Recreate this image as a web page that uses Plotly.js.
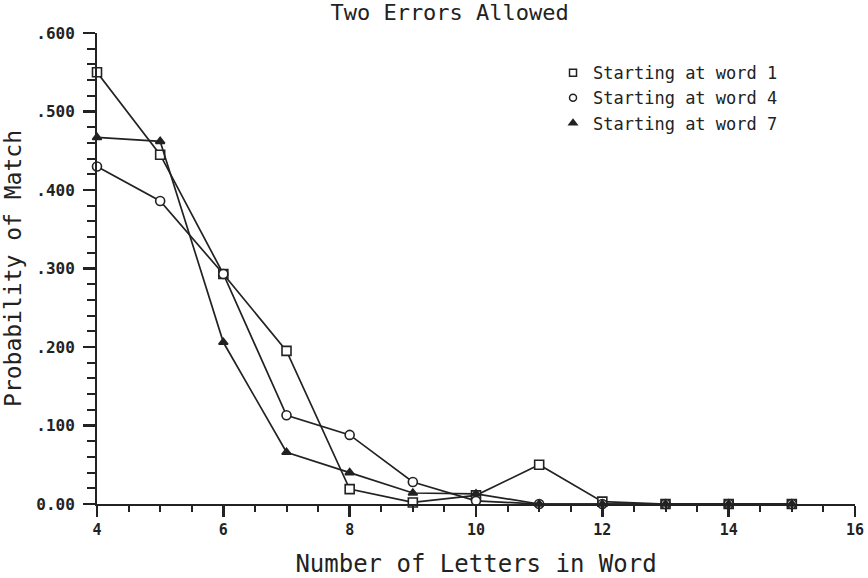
<!DOCTYPE html>
<html>
<head>
<meta charset="utf-8">
<script src="https://cdn.plot.ly/plotly-3.0.1.min.js"></script>
<style>
  html, body { margin: 0; padding: 0; background: #fff; }
  #chart { width: 868px; height: 578px; }
</style>
</head>
<body>
<div id="chart"></div>
<script>
const letters = [4, 5, 6, 7, 8, 9, 10, 11, 12, 13, 14, 15];
const word1 = [0.550, 0.445, 0.293, 0.195, 0.019, 0.002, 0.011, 0.050, 0.003, 0, 0, 0];
const word4 = [0.430, 0.386, 0.293, 0.113, 0.088, 0.028, 0.004, 0, 0, 0, 0, 0];
const word7 = [0.467, 0.462, 0.206, 0.066, 0.040, 0.014, 0.013, 0, 0, 0, 0, 0];
const names = ["Starting at word 1", "Starting at word 4", "Starting at word 7"];

const yTicks = [0, 0.1, 0.2, 0.3, 0.4, 0.5, 0.6];
const yLabels = ["0.00", ".100", ".200", ".300", ".400", ".500", ".600"];

const ink = "#222";
const mono = "DejaVu Sans Mono, monospace";

const symbols = ["square", "circle", "triangle-up"];
const fills = ["#fff", "#fff", ink];

function series(i, y) {
  return {
    x: letters, y, name: names[i],
    type: "scatter",
    mode: "lines+markers",
    cliponaxis: false,
    showlegend: false,
    line: { color: ink, width: 1.7 },
    marker: { symbol: symbols[i], size: i === 2 ? 8 : 9, color: fills[i], line: { color: ink, width: 1.6 } },
  };
}

// legend-only entries: marker without line, like the original key
function key(i) {
  return {
    x: [null], y: [null], name: names[i],
    type: "scatter", mode: "markers",
    marker: { symbol: symbols[i], size: 7, color: fills[i], line: { color: ink, width: 1.5 } },
  };
}

const traces = [
  series(0, word1), series(1, word4), series(2, word7),
  key(0), key(1), key(2),
];

const layout = {
  width: 868, height: 578,
  margin: { l: 97, r: 13, t: 33, b: 74 },
  paper_bgcolor: "#fff", plot_bgcolor: "#fff",
  font: { family: mono, color: ink, size: 14 },
  title: { text: "Two Errors Allowed", x: 0.518, xanchor: "center", y: 0.992, font: { size: 22, family: mono } },
  showlegend: true,
  legend: {
    x: 0.6016, y: 0.953, xanchor: "left", yanchor: "top",
    font: { size: 17, family: mono }, bgcolor: "rgba(0,0,0,0)",
    itemwidth: 30, tracegroupgap: 0,
  },
  xaxis: {
    range: [4, 16], dtick: 2,
    showgrid: false, zeroline: false,
    showline: true, linecolor: ink, linewidth: 2,
    ticks: "outside", ticklen: 11, tickwidth: 2.5, tickcolor: ink,
    minor: { dtick: 0.5, ticks: "outside", ticklen: 6, tickwidth: 2, tickcolor: ink },
    tickfont: { size: 15, family: mono, weight: "bold" },
    title: { text: "Number of Letters in Word", font: { size: 24, family: mono }, standoff: 34 },
  },
  yaxis: {
    range: [0, 0.6],
    tickvals: yTicks, ticktext: yLabels,
    showgrid: false, zeroline: false,
    showline: true, linecolor: ink, linewidth: 2,
    ticks: "outside", ticklen: 12, tickwidth: 2.5, tickcolor: ink,
    minor: { dtick: 0.02, ticks: "outside", ticklen: 8, tickwidth: 2, tickcolor: ink },
    ticklabelstandoff: 5,
    tickfont: { size: 16, family: mono, weight: "bold" },
    title: { text: "Probability of Match", font: { size: 23, family: mono }, standoff: 14 },
  },
};

Plotly.newPlot("chart", traces, layout, { displayModeBar: false, staticPlot: true });
</script>
</body>
</html>
